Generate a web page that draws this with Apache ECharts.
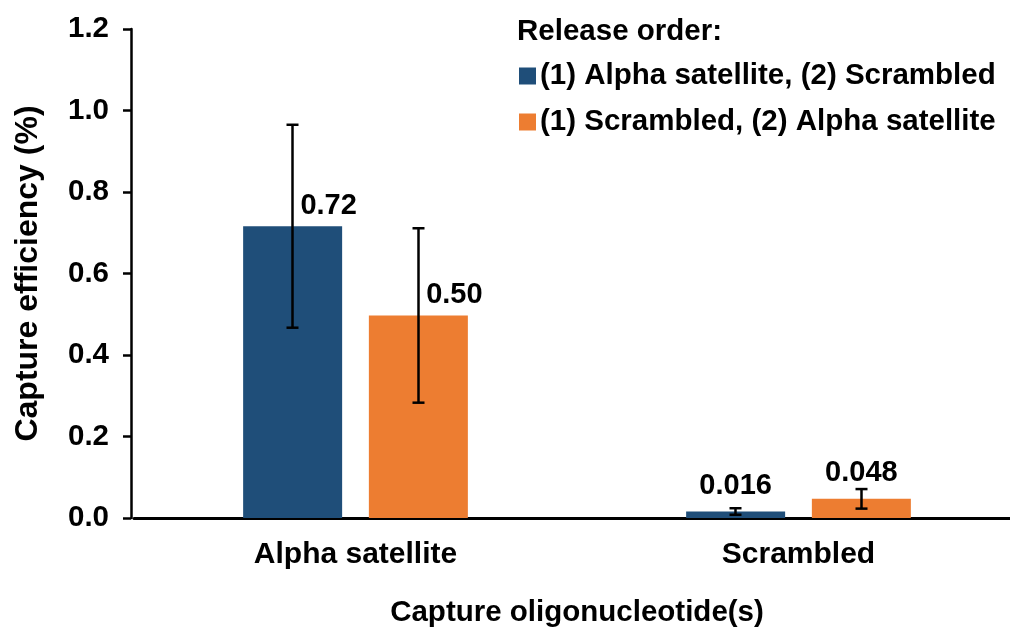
<!DOCTYPE html>
<html><head><meta charset="utf-8">
<script src="https://cdn.jsdelivr.net/npm/echarts@6/dist/echarts.min.js"></script>
<style>html,body{margin:0;padding:0;background:#fff}#c{width:1010px;height:630px}</style>
</head><body><div id="c"></div>
<script>
var categories = ['Alpha satellite', 'Scrambled'];
var seriesNames = ['(1) Alpha satellite, (2) Scrambled', '(1) Scrambled, (2) Alpha satellite'];
var blueValues = [0.716, 0.016];
var orangeValues = [0.497, 0.047];
var blueErrors = [0.249, 0.008];
var orangeErrors = [0.214, 0.024];
var blueLabels = ['0.72', '0.016'];
var orangeLabels = ['0.50', '0.048'];
var yTicks = ['0.0', '0.2', '0.4', '0.6', '0.8', '1.0', '1.2'];

var FONT = '"Liberation Sans", Arial, sans-serif';
var colors = ['#1F4E79', '#ED7D31'];

function barData(vals, labels) {
  return vals.map(function (v, i) {
    var big = v > 0.2;
    return {
      value: v,
      label: {
        formatter: labels[i],
        distance: big ? 6 : 11,
        offset: big ? [36, 0] : [0, 0]
      }
    };
  });
}

function errSeries(vals, errs, seriesIndex) {
  return {
    type: 'custom',
    name: 'err' + seriesIndex,
    silent: true,
    z: 10,
    data: vals.map(function (v, i) { return [i, v - errs[i], v + errs[i]]; }),
    renderItem: function (params, api) {
      var idx = api.value(0);
      var lo = api.coord([idx, api.value(1)]);
      var hi = api.coord([idx, api.value(2)]);
      var barW = 99, gap = 27;
      var cx = lo[0] + (seriesIndex === 0 ? -(gap / 2 + barW / 2) : (gap / 2 + barW / 2));
      var cap = 6;
      var st = { stroke: '#000', lineWidth: 2.5 };
      return {
        type: 'group',
        children: [
          { type: 'line', shape: { x1: cx, y1: lo[1], x2: cx, y2: hi[1] }, style: st },
          { type: 'line', shape: { x1: cx - cap, y1: lo[1], x2: cx + cap, y2: lo[1] }, style: st },
          { type: 'line', shape: { x1: cx - cap, y1: hi[1], x2: cx + cap, y2: hi[1] }, style: st }
        ]
      };
    }
  };
}

var chart = echarts.init(document.getElementById('c'), null, { renderer: 'canvas' });
chart.setOption({
  animation: false,
  backgroundColor: '#fff',
  textStyle: { fontFamily: FONT },
  title: {
    text: 'Release order:',
    left: 512, top: 12,
    textStyle: { fontFamily: FONT, fontWeight: 'bold', fontSize: 29.5, color: '#000' }
  },
  legend: {
    data: seriesNames,
    orient: 'vertical',
    left: 514, top: 56,
    itemWidth: 17, itemHeight: 17, itemGap: 16,
    icon: 'rect',
    textStyle: { fontFamily: FONT, fontWeight: 'bold', fontSize: 29.5, color: '#000', padding: [0, 0, 0, -1] }
  },
  grid: { left: 134, right: -10, top: 29, bottom: 112, containLabel: false, outerBoundsMode: 'none' },
  xAxis: {
    type: 'category',
    data: categories,
    axisLine: { lineStyle: { color: '#000', width: 3 } },
    axisTick: { show: false },
    axisLabel: { fontFamily: FONT, fontWeight: 'bold', fontSize: 30, color: '#000', margin: 22 },
    name: 'Capture oligonucleotide(s)',
    nameLocation: 'middle',
    nameGap: 80,
    nameTextStyle: { fontFamily: FONT, fontWeight: 'bold', fontSize: 29.5, color: '#000' }
  },
  yAxis: {
    type: 'value',
    min: 0, max: 1.2, interval: 0.2,
    offset: 3,
    splitLine: { show: false },
    axisLine: { show: true, lineStyle: { color: '#000', width: 2.5 } },
    axisTick: { show: true, inside: false, length: 8, lineStyle: { color: '#000', width: 2.5 } },
    axisLabel: {
      fontFamily: FONT, fontWeight: 'bold', fontSize: 29.5, color: '#000', margin: 22,
      formatter: function (v) { return yTicks[Math.round(v / 0.2)]; }
    },
    name: 'Capture efficiency (%)',
    nameLocation: 'middle',
    nameGap: 87,
    nameRotate: 90,
    nameTextStyle: { fontFamily: FONT, fontWeight: 'bold', fontSize: 32, color: '#000' }
  },
  series: [
    {
      type: 'bar', name: seriesNames[0], data: barData(blueValues, blueLabels),
      barWidth: 99, barGap: '27%',
      itemStyle: { color: colors[0] },
      label: { show: true, position: 'top', fontFamily: FONT, fontWeight: 'bold', fontSize: 29, color: '#000' }
    },
    {
      type: 'bar', name: seriesNames[1], data: barData(orangeValues, orangeLabels),
      barWidth: 99, barGap: '27%',
      itemStyle: { color: colors[1] },
      label: { show: true, position: 'top', fontFamily: FONT, fontWeight: 'bold', fontSize: 29, color: '#000' }
    },
    errSeries(blueValues, blueErrors, 0),
    errSeries(orangeValues, orangeErrors, 1)
  ]
});
</script></body></html>
